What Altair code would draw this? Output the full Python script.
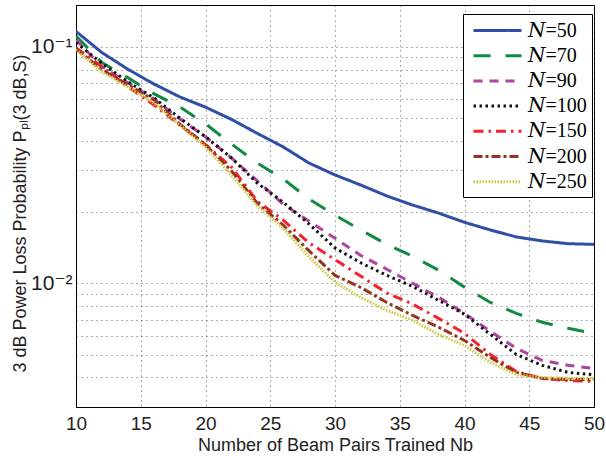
import altair as alt
import pandas as pd

# Number of beam pairs trained
nb = [10, 12, 14, 16, 18, 20, 22, 24, 26, 28, 30, 32, 34, 36, 38, 40, 42, 44, 46, 48, 50]

series_labels = ["𝑁=50", "𝑁=70", "𝑁=90", "𝑁=100", "𝑁=150", "𝑁=200", "𝑁=250"]

pl_N50 = [0.116, 0.0944, 0.0803, 0.0696, 0.0614, 0.0555, 0.0493, 0.0430, 0.0377, 0.0322, 0.0287,
          0.0260, 0.0234, 0.0214, 0.0198, 0.0181, 0.0168, 0.0157, 0.0151, 0.0147, 0.0146]
pl_N70 = [0.111, 0.0856, 0.0740, 0.0633, 0.0557, 0.0472, 0.0388, 0.0322, 0.0276, 0.0227, 0.0194,
          0.0168, 0.0146, 0.0130, 0.01135, 0.00962, 0.0083, 0.00746, 0.00684, 0.00645, 0.00614]
pl_N90 = [0.107, 0.0823, 0.0704, 0.0602, 0.0496, 0.0416, 0.0339, 0.0271, 0.0216, 0.0183, 0.0155,
          0.0131, 0.01146, 0.0100, 0.00873, 0.00746, 0.00626, 0.00531, 0.00472, 0.00450, 0.00436]
pl_N100 = [0.104, 0.0850, 0.0711, 0.0608, 0.0500, 0.0416, 0.0339, 0.0265, 0.0220, 0.0178, 0.0141,
           0.0122, 0.0108, 0.0097, 0.00847, 0.00740, 0.00608, 0.00500, 0.00450, 0.00420, 0.00411]
pl_N150 = [0.099, 0.0823, 0.0677, 0.0568, 0.0467, 0.0385, 0.0310, 0.0222, 0.0185, 0.0148, 0.0126,
           0.0107, 0.0091, 0.00816, 0.00711, 0.00614, 0.00500, 0.00424, 0.00396, 0.00388, 0.00385]
pl_N200 = [0.098, 0.0799, 0.0690, 0.0596, 0.0472, 0.0385, 0.0299, 0.0218, 0.0176, 0.0137, 0.0108,
           0.0096, 0.0083, 0.00731, 0.00652, 0.00573, 0.00486, 0.00420, 0.00396, 0.00392, 0.00392]
pl_N250 = [0.097, 0.0783, 0.0675, 0.0579, 0.0467, 0.0377, 0.0287, 0.0212, 0.0171, 0.0129, 0.0101,
           0.0087, 0.00769, 0.00697, 0.00608, 0.00546, 0.00463, 0.00411, 0.00400, 0.00396, 0.00396]

x_ticks = [10, 15, 20, 25, 30, 35, 40, 45, 50]
y_grid = [0.003, 0.004, 0.005, 0.006, 0.007, 0.008, 0.009,
          0.01, 0.02, 0.03, 0.04, 0.05, 0.06, 0.07, 0.08, 0.09, 0.1]

colors = ["#2F4EA6", "#138A43", "#AC469F", "#111111", "#F5222D", "#96341F", "#CCC83A"]
dashes = [[1, 0], [17, 15], [9, 7], [2.5, 3.5], [10, 5, 2.5, 5], [9, 3, 3, 3], [1.5, 1.5]]

all_series = [pl_N50, pl_N70, pl_N90, pl_N100, pl_N150, pl_N200, pl_N250]
rows = []
for lab, vals in zip(series_labels, all_series):
    for x, v in zip(nb, vals):
        rows.append({"Nb": x, "Ppl": v, "series": lab})
df = pd.DataFrame(rows)

legend = alt.Legend(
    title=None, orient="none", legendX=387, legendY=9,
    symbolType="M-0.6,0H4.2", symbolSize=400, symbolStrokeWidth=3,
    labelFont="Liberation Serif, DejaVu Serif, serif", labelFontSize=20, labelColor="black",
    labelOffset=37, padding=5, rowPadding=3.2,
    strokeColor="black", fillColor="white",
)

chart = alt.Chart(df).mark_line(strokeWidth=3, clip=True).encode(
    x=alt.X("Nb:Q",
            scale=alt.Scale(domain=[10, 50], nice=False, zero=False),
            axis=alt.Axis(values=x_ticks, title="Number of Beam Pairs Trained Nb",
                          format="d", labelFlush=False)),
    y=alt.Y("Ppl:Q",
            scale=alt.Scale(type="log", domain=[0.003, 0.15], nice=False),
            axis=alt.Axis(values=y_grid,
                          labelExpr="datum.value == 0.1 ? '10⁻¹' : (datum.value == 0.01 ? '10⁻²' : '')",
                          labelFontSize=21, labelFont="Liberation Sans, DejaVu Sans",
                          title="3 dB Power Loss Probability Pₚₗ(3 dB,S)",
                          titleX=-56, titleY=208, titleAlign="center", titleBaseline="middle",
                          labelOverlap=False)),
    color=alt.Color("series:N", sort=series_labels,
                    scale=alt.Scale(domain=series_labels, range=colors), legend=legend),
    strokeDash=alt.StrokeDash("series:N", sort=series_labels,
                              scale=alt.Scale(domain=series_labels, range=dashes), legend=legend),
).properties(
    width=518, height=402,
    padding={"left": 76, "top": 5, "right": 12, "bottom": 50},
    autosize=alt.AutoSizeParams(type="none"),
).configure_view(
    stroke="black", strokeWidth=1,
).configure_axis(
    labelFont="Liberation Sans", labelFontSize=19, labelColor="#222222",
    titleFont="Liberation Sans", titleFontSize=18, titleColor="#222222", titleFontWeight="normal",
    domainColor="black", domainWidth=1,
    ticks=False, labelPadding=6,
    grid=True, gridColor="#333333", gridDash=[1, 4], gridWidth=1, gridOpacity=0.8,
).configure_axisX(
    labelPadding=7, titlePadding=3,
).configure_axisY(
    labelPadding=4,
)

chart.save("out.html", embed_options={"renderer": "svg", "actions": False})
